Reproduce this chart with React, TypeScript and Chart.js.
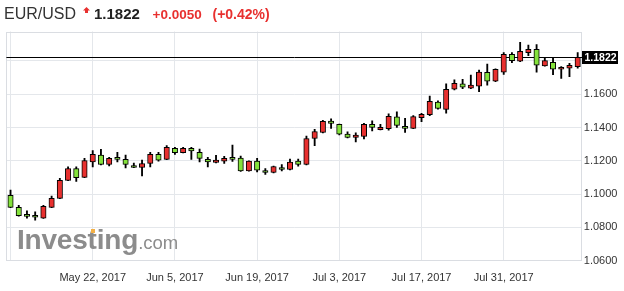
import React, { useEffect, useRef } from "react";
import { Chart, registerables } from "chart.js";

Chart.register(...registerables);

// ---- data ----
const dates = [
  "2017-05-08", "2017-05-09", "2017-05-10", "2017-05-11", "2017-05-12",
  "2017-05-15", "2017-05-16", "2017-05-17", "2017-05-18", "2017-05-19",
  "2017-05-22", "2017-05-23", "2017-05-24", "2017-05-25", "2017-05-26",
  "2017-05-29", "2017-05-30", "2017-05-31", "2017-06-01", "2017-06-02",
  "2017-06-05", "2017-06-06", "2017-06-07", "2017-06-08", "2017-06-09",
  "2017-06-12", "2017-06-13", "2017-06-14", "2017-06-15", "2017-06-16",
  "2017-06-19", "2017-06-20", "2017-06-21", "2017-06-22", "2017-06-23",
  "2017-06-26", "2017-06-27", "2017-06-28", "2017-06-29", "2017-06-30",
  "2017-07-03", "2017-07-04", "2017-07-05", "2017-07-06", "2017-07-07",
  "2017-07-10", "2017-07-11", "2017-07-12", "2017-07-13", "2017-07-14",
  "2017-07-17", "2017-07-18", "2017-07-19", "2017-07-20", "2017-07-21",
  "2017-07-24", "2017-07-25", "2017-07-26", "2017-07-27", "2017-07-28",
  "2017-07-31", "2017-08-01", "2017-08-02", "2017-08-03", "2017-08-04",
  "2017-08-07", "2017-08-08", "2017-08-09", "2017-08-10", "2017-08-11",
];

const opens = [
  1.0992, 1.0920, 1.0869, 1.0866, 1.0855, 1.0920, 1.0974, 1.1083, 1.1154, 1.1101,
  1.1194, 1.1235, 1.1178, 1.1215, 1.1209, 1.1172, 1.1160, 1.1184, 1.1239, 1.1209,
  1.1275, 1.1249, 1.1275, 1.1251, 1.1209, 1.1190, 1.1198, 1.1215, 1.1216, 1.1140,
  1.1198, 1.1142, 1.1130, 1.1160, 1.1148, 1.1198, 1.1178, 1.1334, 1.1370, 1.1439,
  1.1419, 1.1360, 1.1340, 1.1346, 1.1419, 1.1387, 1.1393, 1.1464, 1.1407, 1.1395,
  1.1460, 1.1478, 1.1553, 1.1509, 1.1630, 1.1662, 1.1636, 1.1648, 1.1731, 1.1678,
  1.1733, 1.1840, 1.1798, 1.1850, 1.1870, 1.1770, 1.1792, 1.1750, 1.1756, 1.1766,
];

const highs = [
  1.1025, 1.0932, 1.0899, 1.0893, 1.0932, 1.0988, 1.1095, 1.1164, 1.1164, 1.1215,
  1.1261, 1.1269, 1.1221, 1.1251, 1.1235, 1.1186, 1.1204, 1.1251, 1.1251, 1.1291,
  1.1281, 1.1281, 1.1281, 1.1271, 1.1221, 1.1233, 1.1227, 1.1295, 1.1229, 1.1200,
  1.1215, 1.1154, 1.1168, 1.1178, 1.1210, 1.1210, 1.1348, 1.1390, 1.1443, 1.1453,
  1.1421, 1.1374, 1.1368, 1.1425, 1.1440, 1.1419, 1.1482, 1.1494, 1.1456, 1.1472,
  1.1486, 1.1589, 1.1561, 1.1662, 1.1686, 1.1690, 1.1715, 1.1745, 1.1782, 1.1753,
  1.1850, 1.1850, 1.1912, 1.1896, 1.1898, 1.1822, 1.1822, 1.1766, 1.1786, 1.1850,
];

const lows = [
  1.0918, 1.0867, 1.0855, 1.0843, 1.0854, 1.0918, 1.0972, 1.1081, 1.1077, 1.1099,
  1.1164, 1.1176, 1.1170, 1.1194, 1.1158, 1.1159, 1.1110, 1.1164, 1.1198, 1.1207,
  1.1239, 1.1247, 1.1209, 1.1194, 1.1164, 1.1188, 1.1184, 1.1196, 1.1136, 1.1138,
  1.1134, 1.1118, 1.1128, 1.1140, 1.1146, 1.1168, 1.1176, 1.1291, 1.1368, 1.1394,
  1.1356, 1.1338, 1.1314, 1.1332, 1.1380, 1.1385, 1.1384, 1.1401, 1.1370, 1.1393,
  1.1436, 1.1472, 1.1511, 1.1486, 1.1626, 1.1634, 1.1634, 1.1616, 1.1654, 1.1676,
  1.1719, 1.1790, 1.1796, 1.1832, 1.1732, 1.1768, 1.1718, 1.1695, 1.1705, 1.1756,
];

const closes = [
  1.0920, 1.0871, 1.0866, 1.0861, 1.0926, 1.0974, 1.1083, 1.1154, 1.1099, 1.1202,
  1.1239, 1.1178, 1.1215, 1.1209, 1.1178, 1.1160, 1.1184, 1.1239, 1.1204, 1.1281,
  1.1249, 1.1275, 1.1259, 1.1215, 1.1194, 1.1204, 1.1215, 1.1209, 1.1140, 1.1198,
  1.1144, 1.1130, 1.1166, 1.1148, 1.1192, 1.1178, 1.1334, 1.1376, 1.1437, 1.1425,
  1.1360, 1.1340, 1.1354, 1.1419, 1.1401, 1.1401, 1.1468, 1.1413, 1.1395, 1.1466,
  1.1480, 1.1557, 1.1515, 1.1630, 1.1666, 1.1642, 1.1655, 1.1733, 1.1678, 1.1749,
  1.1840, 1.1802, 1.1858, 1.1870, 1.1774, 1.1802, 1.1750, 1.1762, 1.1774, 1.1822,
];

const gridDates = ["2017-05-08", "2017-05-22", "2017-06-05", "2017-06-19", "2017-07-03", "2017-07-17", "2017-07-31"];
const gridLabels = ["", "May 22, 2017", "Jun 5, 2017", "Jun 19, 2017", "Jul 3, 2017", "Jul 17, 2017", "Jul 31, 2017"];

const yMin = 1.06;
const yMax = 1.1977;
const yStep = 0.02;

const symbol = "EUR/USD";
const lastPriceText = "1.1822";
const changeText = "+0.0050";
const changePctText = "(+0.42%)";

// ---- styles ----
const RED = "#e8302f";
const GREEN = "#84e23c";
const GRID = "#e4e7eb";
const BORDER = "#dadde2";
const FONT = '"Liberation Sans", Arial, sans-serif';
const TEXT = "#333";

const overlayPlugin = {
  id: "overlay",
  beforeDatasetsDraw(chart: any) {
    const { ctx, chartArea } = chart;
    const { left, right, top, bottom } = chartArea;
    const y = chart.scales.y;
    ctx.save();
    ctx.strokeStyle = BORDER;
    ctx.lineWidth = 1;
    ctx.strokeRect(Math.round(left) + 0.5, Math.round(top) + 0.5, Math.round(right) - Math.round(left) - 1, Math.round(bottom) - Math.round(top) - 1);
    const py = Math.round(y.getPixelForValue(closes[closes.length - 1])) + 0.5;
    ctx.strokeStyle = "#000";
    ctx.beginPath();
    ctx.moveTo(left, py);
    ctx.lineTo(right + 1, py);
    ctx.stroke();
    ctx.restore();
  },
  afterDraw(chart: any) {
    const { ctx, chartArea } = chart;
    const y = chart.scales.y;
    const py = Math.round(y.getPixelForValue(closes[closes.length - 1]));
    const x0 = Math.round(chartArea.right);
    ctx.save();
    ctx.fillStyle = "#000";
    ctx.fillRect(x0, py - 6, 36, 13);
    ctx.fillStyle = "#fff";
    ctx.font = `bold 10.5px ${FONT}`;
    ctx.textBaseline = "middle";
    ctx.textAlign = "left";
    ctx.fillText(closes[closes.length - 1].toFixed(4), x0 + 2.5, py + 1);
    ctx.restore();
  },
};

export default function App() {
  const canvasRef = useRef<HTMLCanvasElement | null>(null);

  useEffect(() => {
    document.body.style.margin = "0";
    const canvas = canvasRef.current;
    if (!canvas) return;
    const gridIdx = new Set(gridDates.map((d) => dates.indexOf(d)));
    const lastClose = closes[closes.length - 1];

    const chart = new Chart(canvas, {
      type: "bar",
      data: {
        labels: dates,
        datasets: [
          {
            label: "body",
            data: opens.map((o, i) => [o, closes[i]]) as any,
            backgroundColor: opens.map((o, i) => (closes[i] >= o ? RED : GREEN)),
            borderColor: "#000",
            borderWidth: 1,
            borderSkipped: false,
            barThickness: 5.4,
            minBarLength: 2,
            grouped: false,
          },
          {
            label: "wick",
            data: lows.map((l, i) => [l, highs[i]]) as any,
            backgroundColor: "#000",
            borderWidth: 0,
            barThickness: 1.2,
            grouped: false,
          },
        ],
      },
      options: {
        animation: false,
        responsive: true,
        maintainAspectRatio: false,
        layout: { padding: { left: 3.5, top: 31.5, right: 0, bottom: 0 } },
        plugins: {
          legend: { display: false },
          tooltip: { enabled: false },
        },
        scales: {
          x: {
            type: "category",
            offset: true,
            grid: {
              offset: false,
              drawTicks: false,
              color: (ctx: any) => (gridIdx.has(ctx.index) ? GRID : "rgba(0,0,0,0)"),
            },
            border: { display: false },
            ticks: {
              autoSkip: false,
              maxRotation: 0,
              padding: 10.5,
              color: TEXT,
              font: { family: FONT, size: 11 },
              callback: (_v: any, idx: number) => {
                const k = gridDates.indexOf(dates[idx]);
                return k >= 0 ? gridLabels[k] : "";
              },
            },
            afterFit: (scale: any) => {
              scale.height = 30.3;
            },
          },
          y: {
            position: "right",
            min: yMin,
            max: yMax,
            grid: { color: GRID, drawTicks: false },
            border: { display: false },
            ticks: {
              stepSize: yStep,
              padding: 2,
              color: TEXT,
              font: { family: FONT, size: 11 },
              callback: (v: any) => (Math.abs(v - lastClose) < 0.008 ? "" : Number(v).toFixed(4)),
            },
            afterBuildTicks: (scale: any) => {
              scale.ticks = scale.ticks.filter((t: any) => {
                const k = (t.value - yMin) / yStep;
                return Math.abs(k - Math.round(k)) < 1e-6;
              });
            },
            afterFit: (scale: any) => {
              scale.width = 42.2;
            },
          },
        },
      },
      plugins: [overlayPlugin],
    });
    return () => chart.destroy();
  }, []);

  const abs = (left: number, top: number, size: number, extra: React.CSSProperties = {}): React.CSSProperties => ({
    position: "absolute",
    left,
    top,
    fontSize: size,
    lineHeight: `${size}px`,
    fontFamily: FONT,
    whiteSpace: "nowrap",
    ...extra,
  });

  return (
    <div style={{ position: "relative", width: 624, height: 291, background: "#fff", overflow: "hidden" }}>
      <canvas ref={canvasRef} style={{ position: "absolute", left: 0, top: 0 }} />
      <span style={abs(4, 5.6, 16, { color: "#333" })}>{symbol}</span>
      <svg style={{ position: "absolute", left: 83, top: 6.5 }} width="7" height="6" viewBox="0 0 7 6">
        <polygon points="3.5,0 7,3.5 5,3.5 5,6 2,6 2,3.5 0,3.5" fill={RED} />
      </svg>
      <span style={abs(94, 6.3, 15, { color: "#222", fontWeight: "bold" })}>{lastPriceText}</span>
      <span style={abs(152.5, 7.6, 13.5, { color: RED, fontWeight: "bold" })}>{changeText}</span>
      <span style={abs(212.5, 7.2, 14, { color: RED, fontWeight: "bold" })}>{changePctText}</span>
      <div style={{ ...abs(17, 226.3, 28, { color: "#8c8c8c", fontWeight: "bold", letterSpacing: "-0.2px" }), pointerEvents: "none" }}>
        Investing<span style={{ fontSize: 18.5, fontWeight: "normal", letterSpacing: 0 }}>.com</span>
      </div>
      <div style={{ position: "absolute", left: 91, top: 229, width: 4, height: 4, background: "#f3b046" }} />
    </div>
  );
}
